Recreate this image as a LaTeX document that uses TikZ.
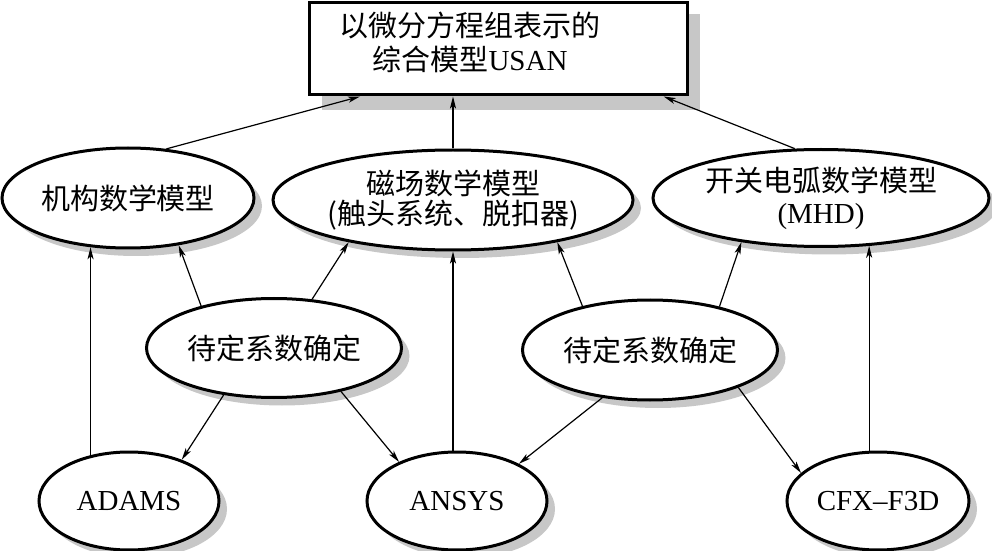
\documentclass[tikz,border=0pt]{standalone}
\usepackage{fontspec}
\setmainfont{Liberation Serif}
\newfontfamily\cjk{Noto Sans CJK SC}
\usetikzlibrary{shapes.geometric,arrows.meta}
\begin{document}
\begin{tikzpicture}[x=0.5pt, y=-0.5pt, >={Stealth[length=6pt,width=3pt,inset=1.5pt]},
      font=\fontsize{14.5}{16}\selectfont\cjk,
      usanbox/.style={draw, line width=1.5pt, fill=white, minimum width=189pt, minimum height=46pt},
      oval/.style={ellipse, draw, line width=1.5pt, fill=white, inner sep=0pt, align=center},
      shadowfill/.style={fill=black!22},
      conn/.style={->, line width=0.6pt}]
    \useasboundingbox (0,0) rectangle (992,551);
    % shadows
    \path[shadowfill] (322,14) rectangle (700,110);
    \foreach \cx/\cy/\rx/\ry in {128/198/126/50, 453/200/180/50, 821/198/168/48.5, 274/348/127.5/49.5, 650/350/127.5/50, 129/501/90/49, 457/501/90/49, 878/501/91/49}
      \path[shadowfill] (\cx+8,\cy+8) ellipse [x radius=\rx, y radius=\ry];
    \node[usanbox] (usan) at (498,49) {};
    \node[align=center, font=\fontsize{14.5}{17}\selectfont\cjk] (usantext) at (470,42) {以微分方程组表示的\\综合模型{\rmfamily USAN}};
    \node[oval, minimum width=126pt, minimum height=50pt] (jigou) at (128,198) {机构数学模型};
    \node[oval, minimum width=180pt, minimum height=50pt, inner xsep=-8pt, font=\fontsize{14.5}{15}\selectfont\cjk] (cichang) at (453,200) {磁场数学模型\\(触头系统、脱扣器)};
    \node[oval, minimum width=168pt, minimum height=48.5pt] (dianhu) at (821,198) {开关电弧数学模型\\{\rmfamily (MHD)}};
    \node[oval, minimum width=127.5pt, minimum height=49.5pt] (daiding1) at (274,348) {待定系数确定};
    \node[oval, minimum width=127.5pt, minimum height=50pt] (daiding2) at (650,350) {待定系数确定};
    \node[oval, minimum width=90pt, minimum height=49pt] (adams) at (129,501) {\rmfamily ADAMS};
    \node[oval, minimum width=90pt, minimum height=49pt] (ansys) at (457,501) {\rmfamily ANSYS};
    \node[oval, minimum width=91pt, minimum height=49pt] (cfx) at (878,501) {\rmfamily CFX--F3D};
    % up to the combined model
    \draw[conn] (jigou.52) -- (usan.199);
    \draw[conn] (cichang.north) -- (cichang.north |- usan.south);
    \draw[conn] (dianhu.118) -- (usan.344);
    % coefficients
    \draw[conn] (daiding1.150) -- (jigou.317);
    \draw[conn] (daiding1.52) -- (cichang.202);
    \draw[conn] (daiding1.223) -- (adams.38);
    \draw[conn] (daiding1.327) -- (ansys.146);
    \draw[conn] (daiding2.147) -- (cichang.338);
    \draw[conn] (daiding2.32) -- (dianhu.209);
    \draw[conn] (daiding2.225) -- (ansys.31);
    \draw[conn] (daiding2.337) -- (cfx.160);
    % software
    \draw[conn] (adams.130) -- (adams.130 |- jigou.233);
    \draw[conn] (cichang.south |- ansys.north) -- (cichang.south);
    \draw[conn] (cfx.100) -- (cfx.100 |- dianhu.316);
  \end{tikzpicture}
\end{document}
